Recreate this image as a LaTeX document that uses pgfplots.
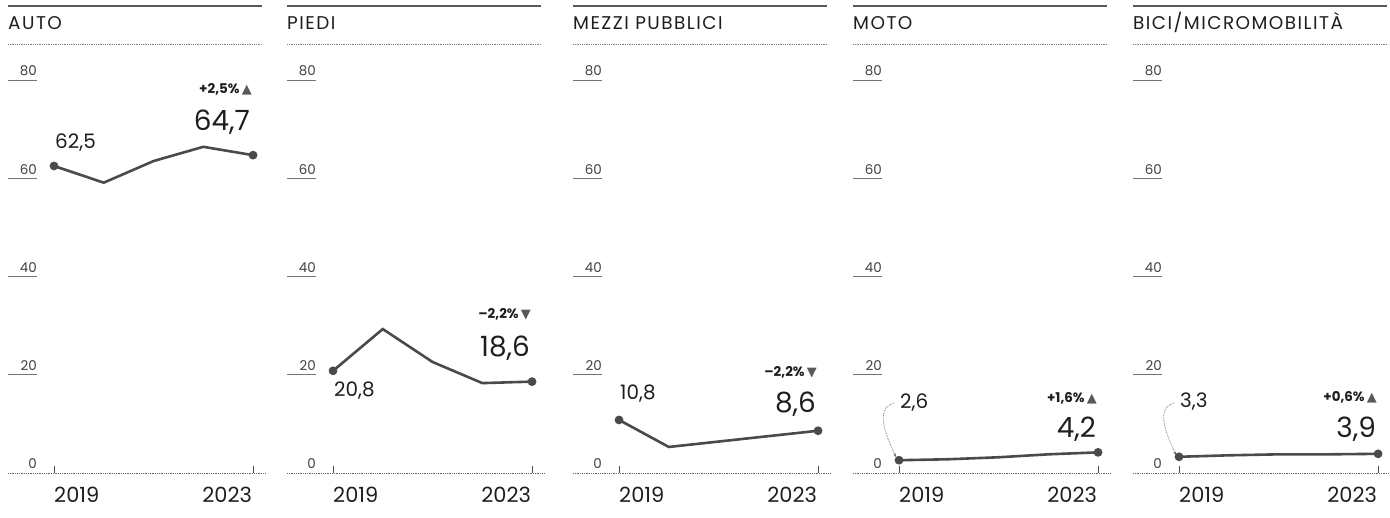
\documentclass[border=0pt]{standalone}
\usepackage{pgfplots}
\pgfplotsset{compat=1.18}
\usepackage{fontspec}
\setmainfont{Poppins}
\newfontfamily\sym{DejaVu Sans}
\newfontfamily\titlefont[LetterSpace=8]{Poppins}
\usetikzlibrary{arrows.meta}
\definecolor{linec}{HTML}{4A4A4A}
\definecolor{txt}{HTML}{1E1E1E}
\newcommand\ttlf{\titlefont\fontsize{18.5}{18}\selectfont}
\newcommand\yrf{\fontsize{21}{21}\selectfont}
\newcommand\fstf{\fontsize{20}{20}\selectfont}
\newcommand\bigf{\fontsize{28}{28}\selectfont}
\newcommand\pctf{\bfseries\fontsize{13.5}{13.5}\selectfont}
\newcommand\upmark{\,{\sym\color{black!65}\fontsize{13}{13}\selectfont▲}}
\newcommand\dnmark{\,{\sym\color{black!65}\fontsize{13}{13}\selectfont▼}}
% x = years since 2019 (0 = 2019, 4 = 2023)
\pgfplotsset{panel/.style={
  scale only axis, width=257bp, height=393bp,
  xmin=-0.925, xmax=4.24, ymin=0, ymax=80, clip=false,
  axis line style={draw=none},
  xtick=\empty, ytick={20,40,60,80}, ytick pos=left, ytick align=inside,
  major tick length=29bp, tick style={draw=black!55, line width=0.8bp},
  yticklabel style={anchor=south east, xshift=29bp, yshift=4bp, inner sep=0pt,
    font=\fontsize{13.5}{14}\selectfont, text=black!75},
  /pgf/number format/assume math mode=true,
  extra y ticks={0}, extra y tick style={major tick length=0pt},
  anchor=south west,
  every axis plot post/.append style={line width=2.6bp, color=linec, mark=*, mark size=3bp, mark indices={1,5}, mark options={fill=linec, draw=linec}},
}}
\newcommand\deco{%
  \draw[densely dotted, black!60, line width=0.8bp] (rel axis cs:0,0) -- (rel axis cs:1,0);
  \draw[black!70, line width=0.9bp] (axis cs:0,0) -- ([yshift=7bp]axis cs:0,0);
  \draw[black!70, line width=0.9bp] (axis cs:4,0) -- ([yshift=7bp]axis cs:4,0);
  \node[anchor=base west, inner sep=0pt, font=\yrf, text=txt, yshift=-30bp, xshift=0bp] at (axis cs:0,0) {2019};
  \node[anchor=base east, inner sep=0pt, font=\yrf, text=txt, yshift=-30bp, xshift=-1bp] at (axis cs:4,0) {2023};
}
\begin{document}
\begin{tikzpicture}
\path[use as bounding box] (0,0) rectangle (1390bp,518bp);
\foreach \x/\t in {8/{AUTO}, 287/{PIEDI}, 573/{MEZZI PUBBLICI}, 853/{MOTO}, 1133/{BICI/MICROMOBILITÀ}}{
  \draw[black!65, line width=1.3bp] (\x bp,512bp) -- ++(254bp,0);
  \node[anchor=base west, inner sep=0pt, text=txt] at (\x bp,488bp) {\ttlf \t};
  \draw[densely dotted, black!50, line width=0.8bp] (\x bp,474bp) -- ++(254bp,0);
}
% AUTO
\begin{axis}[panel, at={(8bp,45bp)}]
\addplot coordinates {(0,62.5)(1,59.1)(2,63.5)(3,66.4)(4,64.7)};
\deco
\node[anchor=base west, inner sep=0pt, font=\fstf, text=txt, yshift=17bp, xshift=1bp] at (axis cs:0,62.5) {62,5};
\node[anchor=base east, inner sep=0pt, font=\bigf, text=txt, yshift=25bp, xshift=-3bp] at (axis cs:4,64.7) {64,7};
\node[anchor=base east, inner sep=0pt, font=\pctf, text=txt, yshift=62bp, xshift=-1bp] at (axis cs:4,64.7) {+2,5\%\upmark};
\end{axis}
% PIEDI
\begin{axis}[panel, at={(287bp,45bp)}]
\addplot coordinates {(0,20.8)(1,29.3)(2,22.6)(3,18.3)(4,18.6)};
\deco
\node[anchor=base west, inner sep=0pt, font=\fstf, text=txt, yshift=-26bp, xshift=1bp] at (axis cs:0,20.8) {20,8};
\node[anchor=base east, inner sep=0pt, font=\bigf, text=txt, yshift=25bp, xshift=-2bp] at (axis cs:4,18.6) {18,6};
\node[anchor=base east, inner sep=0pt, font=\pctf, text=txt, yshift=63bp, xshift=-1bp] at (axis cs:4,18.6) {–2,2\%\dnmark};
\end{axis}
% MEZZI PUBBLICI
\begin{axis}[panel, at={(573bp,45bp)}]
\addplot coordinates {(0,10.8)(1,5.3)(2,6.4)(3,7.5)(4,8.6)};
\deco
\node[anchor=base west, inner sep=0pt, font=\fstf, text=txt, yshift=20bp, xshift=1bp] at (axis cs:0,10.8) {10,8};
\node[anchor=base east, inner sep=0pt, font=\bigf, text=txt, yshift=18bp, xshift=-2bp] at (axis cs:4,8.6) {8,6};
\node[anchor=base east, inner sep=0pt, font=\pctf, text=txt, yshift=54bp, xshift=-1bp] at (axis cs:4,8.6) {–2,2\%\dnmark};
\end{axis}
% MOTO
\begin{axis}[panel, at={(853bp,45bp)}]
\addplot coordinates {(0,2.6)(1,2.8)(2,3.2)(3,3.8)(4,4.2)};
\deco
\node[anchor=base west, inner sep=0pt, font=\fstf, text=txt, yshift=52bp, xshift=1bp] at (axis cs:0,2.6) {2,6};
\draw[densely dotted, black!60, line width=0.7bp, -{Stealth[length=3.5bp,width=3bp]}] ([xshift=-5bp,yshift=70bp]axis cs:0,0) to[out=195,in=115] ([xshift=-3bp,yshift=16bp]axis cs:0,0);
\node[anchor=base east, inner sep=0pt, font=\bigf, text=txt, yshift=15bp, xshift=-2bp] at (axis cs:4,4.2) {4,2};
\node[anchor=base east, inner sep=0pt, font=\pctf, text=txt, yshift=50bp, xshift=-1bp] at (axis cs:4,4.2) {+1,6\%\upmark};
\end{axis}
% BICI
\begin{axis}[panel, at={(1133bp,45bp)}]
\addplot coordinates {(0,3.3)(1,3.6)(2,3.8)(3,3.8)(4,3.9)};
\deco
\node[anchor=base west, inner sep=0pt, font=\fstf, text=txt, yshift=49bp, xshift=1bp] at (axis cs:0,3.3) {3,3};
\draw[densely dotted, black!60, line width=0.7bp, -{Stealth[length=3.5bp,width=3bp]}] ([xshift=-5bp,yshift=70bp]axis cs:0,0) to[out=195,in=115] ([xshift=-3bp,yshift=18bp]axis cs:0,0);
\node[anchor=base east, inner sep=0pt, font=\bigf, text=txt, yshift=16bp, xshift=-2bp] at (axis cs:4,3.9) {3,9};
\node[anchor=base east, inner sep=0pt, font=\pctf, text=txt, yshift=52bp, xshift=-1bp] at (axis cs:4,3.9) {+0,6\%\upmark};
\end{axis}
\end{tikzpicture}
\end{document}
